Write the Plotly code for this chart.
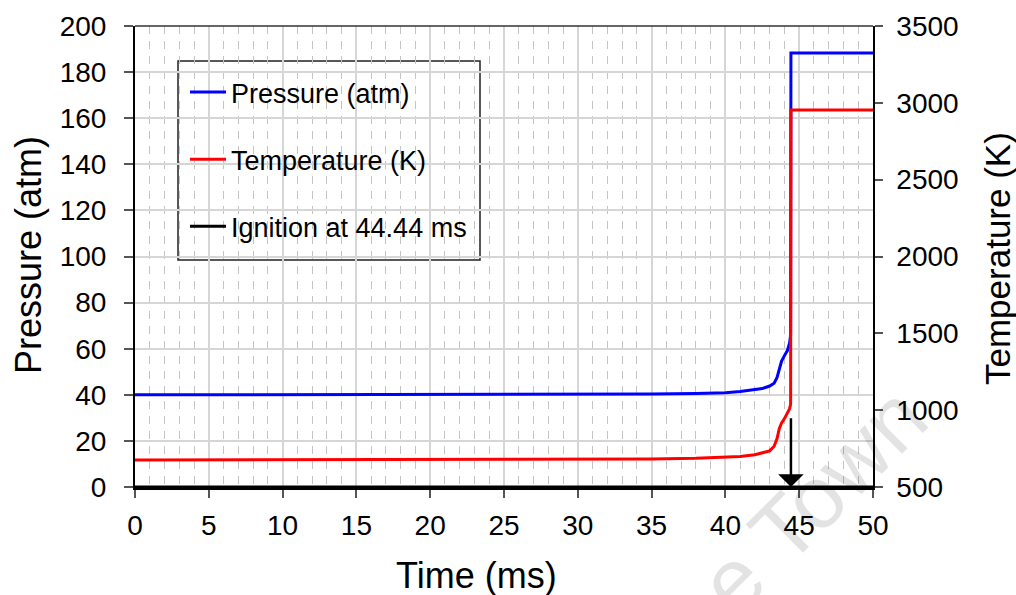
import plotly.graph_objects as go

# ---- data ----
time_ms = [0, 10, 20, 30, 35, 38, 40, 41, 42, 42.5, 43, 43.3, 43.5, 43.65, 43.8,
           44.0, 44.2, 44.35, 44.42, 44.44, 50]
pressure_atm = [40.0, 40.0, 40.0, 40.1, 40.3, 40.6, 40.9, 41.4, 42.1, 42.7, 43.8,
                45.0, 47.5, 51.0, 54.5, 57.0, 59.2, 62.5, 66.0, 188.3, 188.3]
temperature_K = [676, 677, 678, 680, 683, 687, 692, 698, 710, 720, 735, 765, 815,
                 880, 915, 945, 985, 1010, 1040, 2953, 2953]
ignition_time = 44.44
ignition_x = [0, 50]
ignition_y = [0, 0]
arrow_top = 30.5

x_ticks = [0, 5, 10, 15, 20, 25, 30, 35, 40, 45, 50]
p_ticks = [0, 20, 40, 60, 80, 100, 120, 140, 160, 180, 200]
t_ticks = [500, 1000, 1500, 2000, 2500, 3000, 3500]

FONT = "Arial, Liberation Sans, sans-serif"
TICK = 28
L, R, T, B = 135, 873, 26, 487
PW, PH = R - L, B - T


def px(xp):
    return (xp - L) / PW


def py(yp):
    return (B - yp) / PH


fig = go.Figure()
fig.add_trace(go.Scatter(x=time_ms, y=pressure_atm, mode="lines",
                         name="Pressure (atm)", line=dict(color="#0000ff", width=3),
                         legendgroup="a"))
fig.add_trace(go.Scatter(x=time_ms, y=temperature_K, mode="lines", yaxis="y2",
                         name="Temperature (K)", line=dict(color="#ff0000", width=3),
                         legendgroup="b"))
fig.add_trace(go.Scatter(x=ignition_x, y=ignition_y, mode="lines",
                         name="Ignition at 44.44 ms", line=dict(color="#000000", width=3),
                         legendgroup="c"))

fig.update_layout(
    width=1016, height=595,
    margin=dict(l=L, r=1016 - R, t=T, b=595 - B),
    paper_bgcolor="white", plot_bgcolor="white",
    font=dict(family=FONT, size=TICK, color="black"),
    showlegend=True,
    legend=dict(x=px(185), y=py(68), xanchor="left", yanchor="top",
                bgcolor="rgba(0,0,0,0)", borderwidth=0, itemwidth=36,
                font=dict(family=FONT, size=27, color="black"),
                tracegroupgap=29, traceorder="grouped"),
    xaxis=dict(range=[0, 50], tickvals=x_ticks, ticks="outside", ticklen=8,
               tickcolor="#555555", tickwidth=1.5, showline=True, linecolor="black",
               linewidth=3, showgrid=True, gridcolor="#d6d6d6", gridwidth=1.5,
               zeroline=False, ticklabelstandoff=3,
               minor=dict(dtick=1, showgrid=True, gridcolor="#c4c4c4", gridwidth=1,
                          griddash="8px,7px", ticks="")),
    yaxis=dict(range=[0, 200], tickvals=p_ticks, ticks="outside", ticklen=9,
               tickcolor="#555555", tickwidth=1.5, showline=True, linecolor="black",
               linewidth=2, showgrid=True, gridcolor="#d6d6d6", gridwidth=1.5,
               zeroline=False, ticklabelstandoff=12),
    yaxis2=dict(range=[500, 3500], tickvals=t_ticks, overlaying="y", side="right",
                ticks="outside", ticklen=8, tickcolor="#555555", tickwidth=1.5,
                showline=True, linecolor="black", linewidth=1.5, showgrid=False,
                zeroline=False, ticklabelstandoff=8),
)

# top border
fig.add_shape(type="line", xref="paper", yref="paper", x0=0, x1=1, y0=1, y1=1,
              line=dict(color="#333333", width=1.5))
# legend box
fig.add_shape(type="rect", xref="paper", yref="paper", layer="between",
              x0=px(178), x1=px(480), y0=py(260), y1=py(61),
              fillcolor="white", line=dict(color="#222222", width=1.5))

# ignition arrow
fig.add_annotation(x=ignition_time, y=0, ax=ignition_time, ay=arrow_top,
                   xref="x", yref="y", axref="x", ayref="y", text="",
                   showarrow=True, arrowhead=1, arrowsize=1.7, arrowwidth=2.5,
                   arrowcolor="black")

# axis titles
fig.add_annotation(text="Time (ms)", xref="paper", yref="paper",
                   x=px(476), y=py(575), showarrow=False,
                   font=dict(family=FONT, size=36, color="black"),
                   xanchor="center", yanchor="middle")
fig.add_annotation(text="Pressure (atm)", xref="paper", yref="paper",
                   x=px(29), y=py(255), showarrow=False,
                   textangle=-90, font=dict(family=FONT, size=36, color="black"),
                   xanchor="center", yanchor="middle")
fig.add_annotation(text="Temperature (K)", xref="paper", yref="paper",
                   x=px(997), y=py(259), showarrow=False,
                   textangle=-90, font=dict(family=FONT, size=35, color="black"),
                   xanchor="center", yanchor="middle")

# watermark
fig.add_annotation(text="e Town", xref="paper", yref="paper",
                   x=px(812), y=py(500), showarrow=False,
                   textangle=-45, font=dict(family=FONT, size=88,
                                            color="rgba(0,0,0,0.11)"),
                   xanchor="center", yanchor="middle")

fig.write_html("out.html")
